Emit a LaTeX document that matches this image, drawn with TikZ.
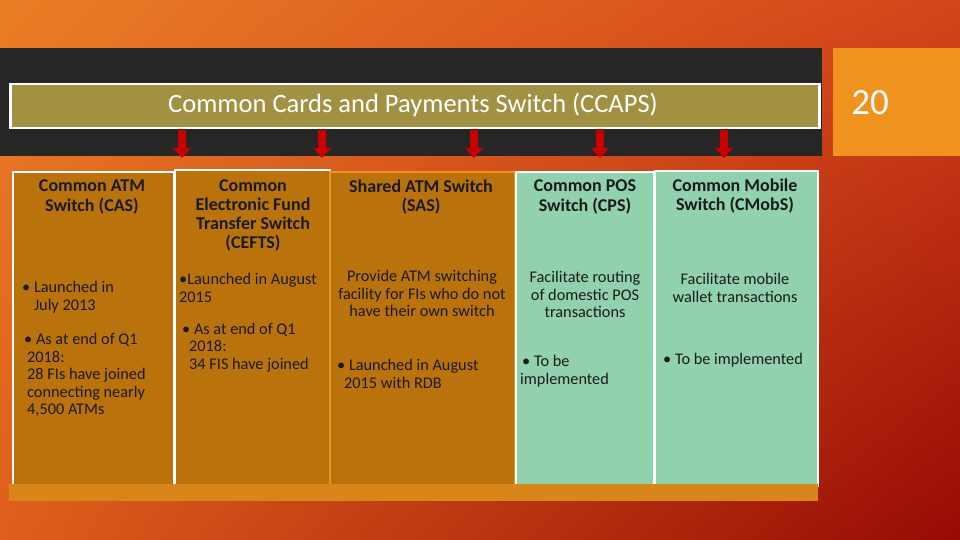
\documentclass[tikz,border=0pt]{standalone}
\usepackage{fontspec}
\usetikzlibrary{shadings}
\setmainfont{Carlito}
\definecolor{bgTL}{HTML}{EA7E26}
\definecolor{bgTR}{HTML}{D4441A}
\definecolor{bgBL}{HTML}{DE5E1C}
\definecolor{bgBR}{HTML}{960A04}
\definecolor{band}{HTML}{262626}
\definecolor{olive}{HTML}{A39143}
\definecolor{numbox}{HTML}{F0921E}
\definecolor{brown}{HTML}{BA730C}
\definecolor{mint}{HTML}{92D1AE}
\definecolor{barcol}{HTML}{D8861A}
\definecolor{arrowred}{HTML}{C80000}
\definecolor{txt}{HTML}{1A1A1A}
\tikzset{
  colbox/.style={line width=2pt},
  head/.style={font=\bfseries\fontsize{18}{19.2}\selectfont, text=txt, align=center, inner sep=0pt},
  body/.style={font=\fontsize{16.3}{17.4}\selectfont, text=txt, inner sep=0pt},
  blockarrow/.style={fill=arrowred, draw=none},
}
\begin{document}
\begin{tikzpicture}[x=1pt,y=-1pt]
\useasboundingbox (0,0) rectangle (960,540);
\shade[upper left=bgTL, upper right=bgTR, lower left=bgBL, lower right=bgBR] (0,0) rectangle (960,540);
% band and number box
\fill[band] (0,48) rectangle (822,156);
\node[fill=numbox, minimum width=127pt, minimum height=108pt, inner sep=0pt, anchor=north west] (numbox) at (833,48) {};
\node[text=white, font=\fontsize{37}{40}\selectfont, inner sep=0pt] (num) at (870,103) {20};
% title box
\node[fill=olive, draw=white, line width=2.5pt, minimum width=809pt, minimum height=44pt, inner sep=0pt, anchor=north west] (title) at (9,83) {};
\node[text=white, font=\fontsize{26.5}{28}\selectfont, inner sep=0pt] (titletext) at (413,104.5) {Common Cards and Payments Switch (CCAPS)};
% arrows
\foreach \x/\n in {182/a1,322/a2,474/a3,600/a4,724/a5}{
  \coordinate (\n) at (\x,130);
  \fill[blockarrow] (\x-4,130) -- (\x+4,130) -- (\x+4,148) -- (\x+9,148) -- (\x,158) -- (\x-9,148) -- (\x-4,148) -- cycle;
}
% columns
\node[colbox, fill=brown, draw=white, minimum width=161pt, minimum height=314pt, anchor=north west, inner sep=0pt] (c1) at (12,171) {};
\node[colbox, fill=brown, draw=white, minimum width=155pt, minimum height=316pt, anchor=north west, inner sep=0pt] (c2) at (174,169) {};
\node[colbox, fill=brown, draw=numbox, minimum width=185pt, minimum height=314pt, anchor=north west, inner sep=0pt] (c3) at (329,171) {};
\node[colbox, fill=mint, draw=white, minimum width=138pt, minimum height=314pt, anchor=north west, inner sep=0pt] (c4) at (515,171) {};
\node[colbox, fill=mint, draw=white, minimum width=163pt, minimum height=315pt, anchor=north west, inner sep=0pt] (c5) at (654,170) {};
\node[fill=barcol, minimum width=809pt, minimum height=17pt, anchor=north west, inner sep=0pt] (bar) at (9,484) {};
% column 1
\node[head] (h1) at (92,197) {Common ATM\\Switch (CAS)};
\node[body, align=left, anchor=west] (b1a) at (22,297) {\textbullet\ Launched in\\\phantom{\textbullet\ }July 2013};
\node[body, align=left, anchor=west] (b1b) at (24,375) {\textbullet\ As at end of Q1\\\hspace{3pt}2018:\\\hspace{3pt}28 FIs have joined\\\hspace{3pt}connecting nearly\\\hspace{3pt}4,500 ATMs};
% column 2
\node[head] (h2) at (253,215.5) {Common\\Electronic Fund\\Transfer Switch\\(CEFTS)};
\node[body, align=left, anchor=west] (b2a) at (179,288) {\textbullet Launched in August\\2015};
\node[body, align=left, anchor=west] (b2b) at (182,347.5) {\textbullet\ As at\ end of Q1\\\hspace{7pt}2018:\\\hspace{7pt}34 FIS have joined};
% column 3
\node[head] (h3) at (421,197) {Shared ATM Switch\\(SAS)};
\node[body, align=center] (d3) at (422,293.5) {Provide ATM switching\\facility for FIs who do not\\have their own switch};
\node[body, align=left, anchor=west] (b3) at (337,374) {\textbullet\ Launched in August\\\hspace{7pt}2015 with RDB};
% column 4
\node[head] (h4) at (585,197) {Common POS\\Switch (CPS)};
\node[body, align=center] (d4) at (585,294.5) {Facilitate routing\\of domestic POS\\transactions};
\node[body, align=left, anchor=west] (b4) at (520,371) {\hspace{2pt}\textbullet\ To be\\implemented};
% column 5
\node[head] (h5) at (735,196) {Common Mobile\\Switch (CMobS)};
\node[body, align=center] (d5) at (735,288) {Facilitate mobile\\wallet transactions};
\node[body] (b5) at (733,360.5) {\textbullet\ To be implemented};
\end{tikzpicture}
\end{document}
